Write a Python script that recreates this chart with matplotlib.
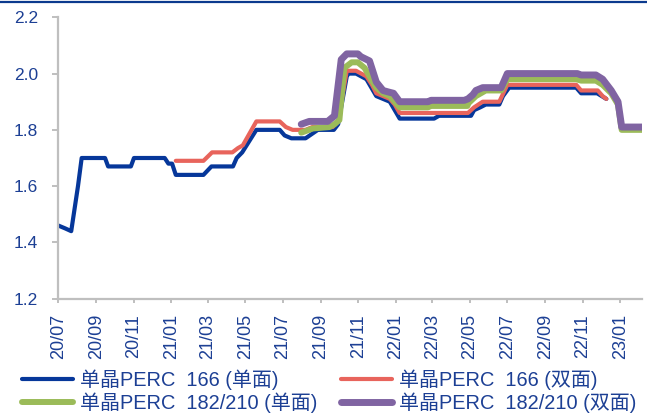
import numpy as np
import pandas as pd
import matplotlib
matplotlib.use('Agg')
import matplotlib.pyplot as plt
import matplotlib.dates as mdates
from matplotlib.lines import Line2D

plt.rcParams['font.family'] = ['Liberation Sans', 'Noto Sans CJK SC']

# price series (yuan/W), vertices
dates_blue = ['2020-07-01', '2020-07-12', '2020-07-22', '2020-08-02', '2020-08-08', '2020-09-15', '2020-09-20',
              '2020-10-27', '2020-11-01', '2020-12-21', '2020-12-27', '2021-01-02', '2021-01-08', '2021-02-22',
              '2021-03-07', '2021-04-11', '2021-04-17', '2021-04-26', '2021-05-19', '2021-06-26', '2021-07-04',
              '2021-07-15', '2021-08-07', '2021-08-17', '2021-08-27', '2021-09-22', '2021-09-29', '2021-10-13',
              '2021-10-16', '2021-10-28', '2021-11-14', '2021-11-22', '2021-11-30', '2021-12-11', '2021-12-22',
              '2021-12-30', '2022-01-07', '2022-03-04', '2022-03-12', '2022-05-03', '2022-05-08', '2022-05-18',
              '2022-05-27', '2022-06-18', '2022-06-24', '2022-07-04', '2022-10-21', '2022-10-29', '2022-11-24',
              '2022-12-09']
vals_blue = [1.46, 1.45, 1.44, 1.60, 1.70, 1.70, 1.67,
             1.67, 1.70, 1.70, 1.68, 1.68, 1.64, 1.64,
             1.67, 1.67, 1.70, 1.72, 1.80, 1.80, 1.78,
             1.77, 1.77, 1.785, 1.80, 1.80, 1.82, 1.99,
             2.00, 2.00, 1.98, 1.95, 1.92, 1.91, 1.90,
             1.87, 1.84, 1.84, 1.85, 1.85, 1.87, 1.88,
             1.89, 1.89, 1.92, 1.95, 1.95, 1.93, 1.93,
             1.91]

dates_red = ['2021-01-08', '2021-02-22', '2021-03-08', '2021-04-10', '2021-04-19', '2021-04-27', '2021-05-19',
             '2021-06-26', '2021-07-06', '2021-07-17', '2021-08-07', '2021-08-18', '2021-09-20', '2021-09-29',
             '2021-10-13', '2021-10-28', '2021-11-14', '2021-11-23', '2021-11-30', '2021-12-11', '2021-12-22',
             '2021-12-30', '2022-01-07', '2022-04-28', '2022-05-08', '2022-05-22', '2022-06-18', '2022-07-01',
             '2022-10-21', '2022-10-29', '2022-11-25', '2022-12-03', '2022-12-09']
vals_red = [1.69, 1.69, 1.72, 1.72, 1.735, 1.745, 1.83,
            1.83, 1.81, 1.80, 1.80, 1.81, 1.81, 1.83,
            2.01, 2.01, 1.99, 1.96, 1.93, 1.92, 1.91,
            1.89, 1.86, 1.86, 1.88, 1.90, 1.90, 1.96,
            1.96, 1.94, 1.94, 1.92, 1.91]

dates_green = ['2021-07-31', '2021-08-19', '2021-09-15', '2021-09-23', '2021-10-01', '2021-10-09', '2021-10-21',
               '2021-10-31', '2021-11-11', '2021-11-19', '2021-11-30', '2021-12-11', '2021-12-22', '2022-01-07',
               '2022-02-22', '2022-02-27', '2022-04-27', '2022-04-29', '2022-05-11', '2022-05-27', '2022-06-21',
               '2022-07-01', '2022-10-21', '2022-10-29', '2022-11-22', '2022-12-03', '2022-12-17', '2022-12-28',
               '2023-01-03', '2023-02-05']
vals_green = [1.79, 1.805, 1.81, 1.82, 1.835, 2.02, 2.04,
              2.04, 2.02, 1.99, 1.95, 1.93, 1.92, 1.88,
              1.88, 1.885, 1.885, 1.895, 1.92, 1.94, 1.94,
              1.98, 1.98, 1.975, 1.975, 1.96, 1.93, 1.89,
              1.80, 1.80]

dates_purple = ['2021-07-31', '2021-08-13', '2021-09-12', '2021-09-23', '2021-10-04', '2021-10-13', '2021-10-31',
                '2021-11-05', '2021-11-19', '2021-11-30', '2021-12-11', '2021-12-19', '2021-12-28', '2022-01-07',
                '2022-02-22', '2022-02-27', '2022-04-22', '2022-04-28', '2022-05-06', '2022-05-11', '2022-05-22',
                '2022-06-21', '2022-07-01', '2022-10-23', '2022-10-29', '2022-11-22', '2022-12-03', '2022-12-17',
                '2022-12-28', '2023-01-03', '2023-02-05']
vals_purple = [1.82, 1.83, 1.83, 1.85, 2.05, 2.07, 2.07,
               2.06, 2.045, 1.97, 1.94, 1.935, 1.93, 1.90,
               1.90, 1.905, 1.905, 1.91, 1.925, 1.94, 1.95,
               1.95, 2.00, 2.00, 1.995, 1.995, 1.98, 1.94,
               1.90, 1.81, 1.81]

labels = ['单晶PERC  166 (单面)', '单晶PERC  166 (双面)', '单晶PERC  182/210 (单面)', '单晶PERC  182/210 (双面)']
colors = ['#06379A', '#E8645C', '#9BBB59', '#8064A2']
widths = [3.0, 3.0, 4.3, 5.0]
txt_color = '#1C3F94'

fig = plt.figure(figsize=(6.47, 4.16), dpi=100)
ax = fig.add_axes([58.3 / 647, 1 - 298.7 / 416, (642 - 58.3) / 647, (298.7 - 17.3) / 416])

series = [(dates_blue, vals_blue), (dates_red, vals_red), (dates_green, vals_green), (dates_purple, vals_purple)]
handles = []
for (d, v), c, w, lab in zip(series, colors, widths, labels):
    h, = ax.plot(pd.to_datetime(d), v, color=c, lw=w, label=lab,
                 solid_joinstyle='round', solid_capstyle='round')
    handles.append(h)

ax.set_ylim(1.2, 2.2)
ax.set_yticks(np.arange(1.2, 2.21, 0.2))
ax.yaxis.set_major_formatter(plt.FormatStrFormatter('%.1f'))
ax.set_xlim(pd.Timestamp('2020-07-01'), pd.Timestamp('2023-02-05'))
ax.xaxis.set_major_locator(mdates.MonthLocator(bymonth=[1, 3, 5, 7, 9, 11]))
ax.xaxis.set_major_formatter(mdates.DateFormatter('%y/%m'))

for s in ['top', 'right']:
    ax.spines[s].set_visible(False)
for s in ['left', 'bottom']:
    ax.spines[s].set_color('#BFBFBF')
    ax.spines[s].set_linewidth(1.6)

ax.tick_params(axis='y', colors='#BFBFBF', labelcolor=txt_color, labelsize=12.5, length=4.5, width=1.4, pad=10)
ax.tick_params(axis='x', colors='#BFBFBF', labelcolor=txt_color, labelsize=13, length=3, width=1.4, pad=8,
               labelrotation=90)

# top rule
fig.add_artist(Line2D([0, 1], [1 - 2 / 416, 1 - 2 / 416], transform=fig.transFigure, color='#0B3A8E', lw=1.6))

order = [0, 2, 1, 3]
leg = fig.legend([handles[i] for i in order], [labels[i] for i in order], ncol=2, loc='upper left',
                 bbox_to_anchor=(21.7 / 647, 1 - 369 / 416), frameon=False, fontsize=14.4,
                 handlelength=2.55, handletextpad=0.35, columnspacing=1.2, labelspacing=0.15,
                 borderpad=0, borderaxespad=0)
for t in leg.get_texts():
    t.set_color(txt_color)

fig.savefig('out.png', dpi=100)
